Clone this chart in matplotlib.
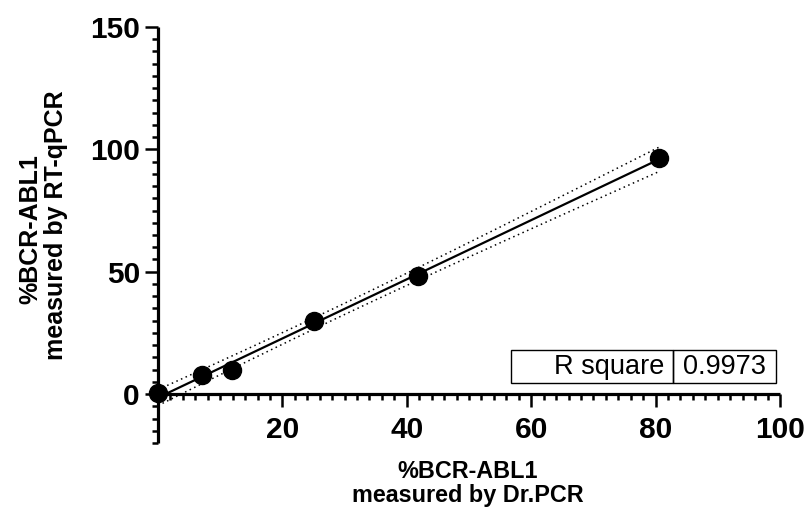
import numpy as np
import matplotlib
matplotlib.use("Agg")
import matplotlib.pyplot as plt
from matplotlib.patches import Rectangle
from matplotlib.ticker import MultipleLocator, FixedLocator

# ---- data ----
x_drpcr = [0.0, 7.1, 11.9, 25.0, 41.8, 80.5]
y_rtqpcr = [0.3, 7.7, 9.7, 30.0, 48.3, 96.3]
x_ticks = [20, 40, 60, 80, 100]
y_ticks = [0, 50, 100, 150]
r_square_label = "R square"
r_square_value = "0.9973"
x_label_lines = ["%BCR-ABL1", "measured by Dr.PCR"]
y_label_lines = ["%BCR-ABL1", "measured by RT-qPCR"]

plt.rcParams['font.family'] = ['Liberation Sans', 'DejaVu Sans']

W, H = 810, 508
fig = plt.figure(figsize=(W / 100, H / 100), dpi=100)
ax = fig.add_axes([158 / W, 65 / H, 622 / W, 416 / H])

# linear regression with 95% confidence band
x = np.array(x_drpcr)
y = np.array(y_rtqpcr)
n = len(x)
slope, intercept = np.polyfit(x, y, 1)
xs = np.linspace(x.min(), x.max(), 300)
yhat = intercept + slope * xs
resid = y - (intercept + slope * x)
s = np.sqrt(np.sum(resid ** 2) / (n - 2))
sxx = np.sum((x - x.mean()) ** 2)
t_crit = 2.776445  # t(0.975, df=4)
half = t_crit * s * np.sqrt(1 / n + (xs - x.mean()) ** 2 / sxx)

ax.plot(xs, yhat, color='black', lw=1.6, zorder=3)
ax.plot(xs, yhat + half, color='black', lw=1.1, ls=(0, (1, 2.3)), zorder=3)
ax.plot(xs, yhat - half, color='black', lw=1.1, ls=(0, (1, 2.3)), zorder=3)
ax.plot(x, y, 'o', color='black', ms=13, clip_on=False, zorder=5)

ax.set_xlim(0, 100)
ax.set_ylim(-20, 150)

for side in ['top', 'right']:
    ax.spines[side].set_visible(False)
ax.spines['bottom'].set_position(('data', 0))
ax.spines['left'].set_position(('data', 0))
for side in ['bottom', 'left']:
    ax.spines[side].set_linewidth(2.3)
    ax.spines[side].set_capstyle('butt')

ax.xaxis.set_major_locator(FixedLocator(x_ticks))
ax.xaxis.set_minor_locator(MultipleLocator(2))
ax.yaxis.set_major_locator(FixedLocator(y_ticks))
ax.yaxis.set_minor_locator(MultipleLocator(5))

ax.tick_params(which='major', direction='out', length=9.5, width=1.8)
ax.tick_params(which='minor', direction='out', length=4.5, width=1.8)
ax.tick_params(axis='x', which='major', pad=6.5)
ax.tick_params(axis='y', which='major', pad=3.5)
for lab in ax.get_xticklabels() + ax.get_yticklabels():
    lab.set_fontsize(21.5)
    lab.set_fontweight('bold')

# axis titles
fig.text(468 / W, (H - 478) / H, x_label_lines[0], ha='center', va='baseline',
         fontsize=16.8, fontweight='bold')
fig.text(468 / W, (H - 502) / H, x_label_lines[1], ha='center', va='baseline',
         fontsize=16.8, fontweight='bold')
fig.text(37 / W, (H - 229) / H, y_label_lines[0], ha='center', va='baseline',
         rotation=90, rotation_mode='anchor', fontsize=18, fontweight='bold')
fig.text(63 / W, (H - 225) / H, y_label_lines[1], ha='center', va='baseline',
         rotation=90, rotation_mode='anchor', fontsize=18, fontweight='bold')

# R square box
bx0, bx1, bdiv = 0.5675, 0.993, 0.8275
by0, by1 = 0.1435, 0.2236
ax.add_patch(Rectangle((bx0, by0), bdiv - bx0, by1 - by0, transform=ax.transAxes,
                       fill=False, lw=1.0, edgecolor='black', clip_on=False))
ax.add_patch(Rectangle((bdiv, by0), bx1 - bdiv, by1 - by0, transform=ax.transAxes,
                       fill=False, lw=1.0, edgecolor='black', clip_on=False))
ax.text(bdiv - 0.014, (by0 + by1) / 2, r_square_label, transform=ax.transAxes,
        ha='right', va='center', fontsize=19.5)
ax.text((bdiv + bx1) / 2, (by0 + by1) / 2, r_square_value, transform=ax.transAxes,
        ha='center', va='center', fontsize=19.5)

fig.savefig('out.png', dpi=100)
